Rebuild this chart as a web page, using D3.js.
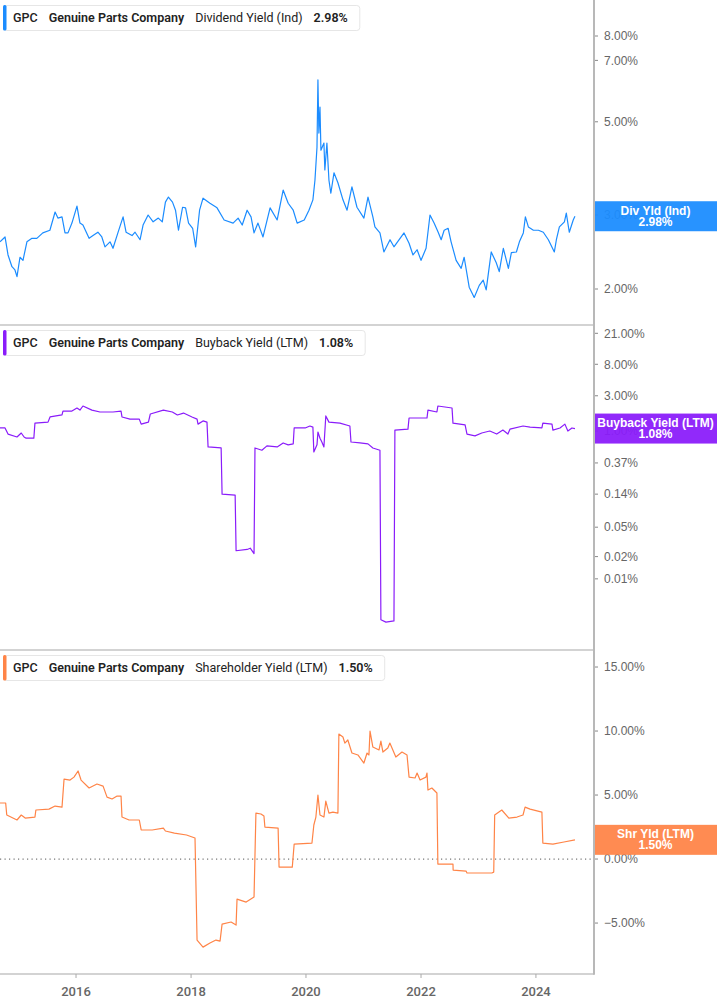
<!DOCTYPE html>
<html>
<head>
<meta charset="utf-8">
<script src="https://cdn.jsdelivr.net/npm/d3@7"></script>
<style>
  html, body { margin: 0; padding: 0; background: #fff; }
  svg { display: block; }
</style>
</head>
<body>
<svg id="chart" width="717" height="1005"></svg>
<script>
// ---------- DATA ----------
const xTickYears = [2016, 2018, 2020, 2022, 2024];

const divTicks = [8, 7, 5, 3, 2];
const bbTicks = [21, 8, 3, 1, 0.37, 0.14, 0.05, 0.02, 0.01];
const shrTicks = [15, 10, 5, 0, -5];

const divDates = ["2014-09-05","2014-10-07","2014-10-26","2014-11-20","2014-12-09","2014-12-22","2015-01-10","2015-01-29","2015-02-23","2015-03-27","2015-04-27","2015-06-04","2015-07-19","2015-08-21","2015-09-08","2015-10-04","2015-10-23","2015-11-11","2015-12-06","2016-01-07","2016-01-26","2016-02-14","2016-03-24","2016-04-18","2016-05-19","2016-06-13","2016-07-03","2016-08-04","2016-08-23","2016-09-23","2016-10-26","2016-11-14","2016-12-22","2017-01-10","2017-02-11","2017-03-02","2017-04-03","2017-05-05","2017-06-07","2017-07-02","2017-07-22","2017-08-10","2017-09-05","2017-09-24","2017-10-13","2017-11-08","2017-11-27","2017-12-16","2018-01-11","2018-01-30","2018-02-24","2018-03-18","2018-05-01","2018-06-15","2018-07-30","2018-09-25","2018-10-27","2018-11-22","2018-12-23","2019-01-17","2019-02-05","2019-03-02","2019-04-03","2019-05-18","2019-07-02","2019-08-09","2019-09-10","2019-10-12","2019-11-06","2019-12-21","2020-01-20","2020-02-14","2020-02-27","2020-03-11","2020-03-17","2020-03-23","2020-03-30","2020-04-05","2020-04-24","2020-04-30","2020-05-13","2020-05-26","2020-06-07","2020-06-27","2020-07-22","2020-08-23","2020-09-18","2020-10-19","2020-11-20","2021-01-03","2021-01-29","2021-03-01","2021-03-14","2021-04-15","2021-05-10","2021-06-18","2021-07-13","2021-09-15","2021-10-17","2021-11-11","2021-12-07","2022-01-01","2022-02-02","2022-02-27","2022-03-25","2022-04-20","2022-05-09","2022-05-28","2022-06-22","2022-07-11","2022-08-12","2022-09-13","2022-10-02","2022-11-03","2022-12-05","2023-01-06","2023-01-31","2023-02-19","2023-03-23","2023-04-24","2023-05-13","2023-06-08","2023-07-10","2023-07-29","2023-08-30","2023-09-18","2023-10-13","2023-10-26","2023-11-14","2023-12-16","2024-01-17","2024-02-17","2024-03-20","2024-04-27","2024-05-10","2024-05-29","2024-06-30","2024-07-12","2024-07-31","2024-08-25","2024-09-05"];
const divValues = [2.59,2.66,2.41,2.26,2.22,2.14,2.38,2.34,2.59,2.64,2.64,2.72,2.76,3.05,2.95,2.97,2.72,2.72,2.87,3.15,2.87,2.84,2.64,2.68,2.73,2.66,2.52,2.59,2.50,2.72,2.97,2.73,2.68,2.73,2.62,2.84,3.00,2.89,2.95,2.89,3.22,3.31,3.22,3.08,2.76,3.13,3.12,2.87,2.79,2.52,3.08,3.29,3.20,3.12,2.92,2.87,2.95,2.84,3.08,2.97,2.72,2.87,2.66,3.12,2.92,3.44,3.20,3.08,2.87,2.92,3.08,3.26,3.63,4.35,6.29,4.70,5.42,4.28,4.45,3.84,4.45,3.63,3.38,3.78,3.58,3.26,3.08,3.50,3.13,2.95,3.31,2.97,2.81,2.72,2.45,2.62,2.52,2.72,2.57,2.41,2.48,2.34,2.50,3.00,2.87,2.73,2.62,2.76,2.79,2.59,2.34,2.24,2.38,2.02,1.91,2.04,2.10,1.99,2.45,2.31,2.20,2.50,2.24,2.44,2.45,2.59,2.72,2.97,2.81,2.76,2.76,2.73,2.62,2.45,2.62,2.81,2.89,3.03,2.73,2.92,2.98];

const bbDates = ["2014-09-05","2014-10-07","2014-10-26","2014-12-22","2015-01-18","2015-02-05","2015-02-18","2015-04-08","2015-04-15","2015-07-07","2015-07-20","2015-10-04","2015-10-10","2015-12-06","2016-01-07","2016-01-26","2016-02-14","2016-04-11","2016-06-01","2016-08-23","2016-10-13","2016-10-19","2016-12-09","2017-02-06","2017-02-18","2017-04-05","2017-04-17","2017-07-09","2017-09-04","2017-10-06","2017-11-14","2018-01-07","2018-02-08","2018-02-14","2018-03-18","2018-04-12","2018-04-19","2018-07-11","2018-07-17","2018-10-08","2018-10-14","2018-12-23","2019-01-12","2019-02-05","2019-02-11","2019-03-27","2019-04-28","2019-07-02","2019-08-09","2019-09-10","2019-10-12","2019-10-18","2019-12-27","2020-01-26","2020-02-14","2020-02-20","2020-03-11","2020-03-17","2020-03-30","2020-04-11","2020-04-24","2020-05-06","2020-05-26","2020-08-04","2020-10-06","2020-10-13","2020-12-09","2021-01-29","2021-03-01","2021-04-15","2021-04-21","2021-05-23","2021-07-13","2021-07-19","2021-10-10","2021-10-17","2021-12-13","2022-02-08","2022-02-14","2022-04-12","2022-04-18","2022-07-17","2022-07-23","2022-10-08","2022-10-20","2022-12-10","2023-01-22","2023-03-14","2023-04-27","2023-06-05","2023-07-07","2023-07-20","2023-10-11","2023-11-25","2024-02-08","2024-02-14","2024-04-12","2024-04-18","2024-06-02","2024-07-03","2024-07-22","2024-08-17","2024-09-05"];
const bbValues = [1.10,1.10,0.91,0.83,0.94,0.83,0.80,0.80,1.28,1.32,1.55,1.65,1.86,1.86,2.05,1.92,2.18,1.92,1.81,1.81,1.86,1.55,1.45,1.45,1.24,1.32,1.70,1.92,1.81,1.65,1.75,1.55,1.45,1.24,1.37,1.32,0.61,0.59,0.14,0.136,0.024,0.025,0.026,0.022,0.59,0.55,0.63,0.61,0.69,0.65,0.67,1.10,1.10,1.17,1.13,0.52,0.65,0.97,0.80,0.71,0.61,1.60,1.32,1.28,1.17,0.71,0.69,0.67,0.59,0.55,0.0028,0.0026,0.0027,1.03,1.06,1.50,1.50,1.50,1.92,1.81,2.18,2.05,1.28,1.21,0.91,0.86,0.94,1.00,0.91,1.03,0.91,1.06,1.17,1.13,1.10,1.28,1.24,1.03,1.10,1.24,1.00,1.10,1.08];

const shrDates = ["2014-09-05","2014-10-11","2014-10-18","2014-12-22","2015-01-18","2015-02-12","2015-04-15","2015-04-21","2015-07-13","2015-08-21","2015-10-04","2015-10-17","2015-11-24","2015-12-19","2016-01-14","2016-02-02","2016-03-24","2016-05-13","2016-06-21","2016-07-16","2016-08-17","2016-09-18","2016-10-13","2016-10-19","2016-12-03","2017-02-06","2017-02-18","2017-04-29","2017-07-09","2017-07-22","2017-09-17","2017-12-03","2018-01-26","2018-02-08","2018-03-18","2018-05-01","2018-06-08","2018-07-04","2018-07-17","2018-09-12","2018-10-14","2018-10-20","2018-12-17","2019-02-05","2019-02-17","2019-03-21","2019-04-09","2019-04-15","2019-07-08","2019-07-14","2019-10-06","2019-10-18","2020-02-08","2020-02-20","2020-03-04","2020-03-17","2020-03-30","2020-04-24","2020-05-06","2020-05-26","2020-06-20","2020-07-22","2020-07-28","2020-08-23","2020-09-04","2020-09-23","2020-10-19","2020-11-26","2021-01-03","2021-01-23","2021-02-04","2021-02-11","2021-03-01","2021-04-09","2021-04-21","2021-05-04","2021-06-04","2021-06-17","2021-07-25","2021-09-02","2021-10-04","2021-10-17","2021-11-24","2021-12-07","2021-12-26","2022-02-01","2022-02-08","2022-02-14","2022-03-11","2022-04-12","2022-04-18","2022-07-23","2022-07-24","2022-10-14","2022-10-20","2023-03-27","2023-04-08","2023-04-14","2023-05-29","2023-07-13","2023-09-03","2023-10-11","2023-10-24","2023-11-25","2024-02-08","2024-02-14","2024-04-18","2024-06-27","2024-09-05"];
const shrValues = [4.38,4.38,3.44,3.05,3.44,3.20,3.28,3.83,3.90,4.14,4.06,6.25,6.17,6.40,6.88,6.17,5.55,5.86,5.70,4.84,4.69,4.92,4.92,3.28,3.05,3.05,2.27,2.27,2.42,2.19,2.03,1.88,1.64,-6.33,-6.88,-6.56,-6.33,-6.41,-5.08,-4.92,-5.16,-3.13,-3.36,-2.97,3.59,3.52,3.36,2.50,2.42,-0.63,-0.63,1.17,1.25,2.66,3.28,5.00,3.44,3.28,4.53,3.59,3.67,3.59,9.77,9.53,9.06,9.30,8.28,8.13,7.50,8.28,8.13,10.00,8.75,8.52,9.22,8.36,8.67,9.06,7.97,8.36,8.13,6.40,6.33,6.72,6.17,6.40,6.72,5.39,5.55,5.16,-0.39,-0.39,-0.86,-0.94,-1.09,-1.09,-1.02,3.44,3.83,3.20,3.28,3.44,4.06,3.90,3.67,1.25,1.17,1.33,1.50];

// ---------- LAYOUT ----------
const svg = d3.select("#chart");
const plotRight = 594;
const panels = [
  { top: 0, bottom: 325, color: "#1b8cff", ticker: "GPC", name: "Genuine Parts Company", metric: "Dividend Yield (Ind)", last: "2.98%", badge: ["Div Yld (Ind)", "2.98%"],
    dates: divDates, values: divValues, ticks: divTicks, type: "log", domain: [9.745, 1.642] },
  { top: 325, bottom: 650, color: "#8a1cfa", ticker: "GPC", name: "Genuine Parts Company", metric: "Buyback Yield (LTM)", last: "1.08%", badge: ["Buyback Yield (LTM)", "1.08%"],
    dates: bbDates, values: bbValues, ticks: bbTicks, type: "log", domain: [27.2, 0.00109] },
  { top: 650, bottom: 974, color: "#ff8447", ticker: "GPC", name: "Genuine Parts Company", metric: "Shareholder Yield (LTM)", last: "1.50%", badge: ["Shr Yld (LTM)", "1.50%"],
    dates: shrDates, values: shrValues, ticks: shrTicks, type: "linear", domain: [16.33, -8.98] }
];

const parse = d3.timeParse("%Y-%m-%d");
const x = d3.scaleTime()
  .domain([parse("2014-09-05"), parse("2025-01-04")])
  .range([0, plotRight]);

const fmt = d3.format(".2f");
const tickFont = "'Liberation Sans', Arial, sans-serif";
const legendFont = "Roboto, 'Liberation Sans', sans-serif";

panels.forEach((p, i) => {
  const y = (p.type === "log" ? d3.scaleLog() : d3.scaleLinear())
    .domain(p.domain).range([p.top, p.bottom]);
  const g = svg.append("g");

  const clipId = "clip" + i;
  svg.append("clipPath").attr("id", clipId)
    .append("rect").attr("x", 0).attr("y", p.top).attr("width", plotRight).attr("height", p.bottom - p.top);

  if (p.type === "linear") {
    g.append("line")
      .attr("x1", 0).attr("x2", plotRight)
      .attr("y1", y(0)).attr("y2", y(0))
      .attr("stroke", "#777").attr("stroke-width", 1.2)
      .attr("stroke-dasharray", "1.2,3.3");
  }

  const data = p.dates.map((d, k) => ({ date: parse(d), value: p.values[k] }));
  const line = d3.line().x(d => x(d.date)).y(d => y(d.value));
  g.append("path")
    .datum(data)
    .attr("clip-path", `url(#${clipId})`)
    .attr("d", line)
    .attr("fill", "none")
    .attr("stroke", p.color)
    .attr("stroke-width", 1.2)
    .attr("stroke-linejoin", "round");

  g.append("line")
    .attr("x1", 0).attr("x2", plotRight)
    .attr("y1", p.bottom).attr("y2", p.bottom)
    .attr("stroke", "#c4c4c4").attr("stroke-width", 1.5);

  p.ticks.forEach(t => {
    const ty = y(t);
    g.append("line")
      .attr("x1", plotRight + 1).attr("x2", plotRight + 4)
      .attr("y1", ty).attr("y2", ty)
      .attr("stroke", "#888").attr("stroke-width", 1);
    g.append("text")
      .attr("x", plotRight + 10).attr("y", ty + 4.3)
      .attr("font-family", tickFont).attr("font-size", 12)
      .attr("fill", "#666")
      .text(fmt(t) + "%");
  });

  const lastVal = p.values[p.values.length - 1];
  const by = y(lastVal);
  g.append("rect")
    .attr("x", plotRight).attr("y", by - 15)
    .attr("width", 717 - plotRight).attr("height", 30)
    .attr("fill", p.color).attr("fill-opacity", 0.94);
  const cx = plotRight + (717 - plotRight) / 2;
  g.append("text")
    .attr("x", cx).attr("y", by - 1.5)
    .attr("text-anchor", "middle")
    .attr("font-family", tickFont).attr("font-size", 12).attr("font-weight", 600)
    .attr("fill", "#fff").text(p.badge[0]);
  g.append("text")
    .attr("x", cx).attr("y", by + 9.5)
    .attr("text-anchor", "middle")
    .attr("font-family", tickFont).attr("font-size", 12).attr("font-weight", 600)
    .attr("fill", "#fff").text(p.badge[1]);

  const lg = svg.append("g").attr("transform", `translate(0, ${p.top})`);
  const box = lg.append("rect")
    .attr("x", 3.5).attr("y", 5.5).attr("height", 25)
    .attr("rx", 3).attr("fill", "#fff")
    .attr("stroke", "#e6e6e6").attr("stroke-width", 1);
  lg.append("rect")
    .attr("x", 3).attr("y", 5).attr("width", 3.5).attr("height", 25.5)
    .attr("rx", 1.5)
    .attr("fill", p.color);
  const parts = [
    { t: p.ticker, w: 500, c: "#222" },
    { t: p.name, w: 600, c: "#222" },
    { t: p.metric, w: 400, c: "#222" },
    { t: p.last, w: 600, c: "#222" }
  ];
  let cxp = 13;
  parts.forEach(pt => {
    const tx = lg.append("text")
      .attr("x", cxp).attr("y", 22)
      .attr("font-family", legendFont).attr("font-size", 12.5)
      .attr("font-weight", pt.w).attr("fill", pt.c)
      .text(pt.t);
    cxp += tx.node().getComputedTextLength() + 11;
  });
  box.attr("width", cxp - 11 + 12 - 3.5);
});

svg.append("line")
  .attr("x1", plotRight).attr("x2", plotRight)
  .attr("y1", 0).attr("y2", 974.75)
  .attr("stroke", "#b8b8b8").attr("stroke-width", 2);

xTickYears.forEach(yr => {
  const tx = x(new Date(yr, 0, 1));
  svg.append("line")
    .attr("x1", tx).attr("x2", tx).attr("y1", 974).attr("y2", 978)
    .attr("stroke", "#aaa").attr("stroke-width", 1);
  svg.append("text")
    .attr("x", tx).attr("y", 996)
    .attr("text-anchor", "middle")
    .attr("font-family", legendFont).attr("font-size", 13).attr("font-weight", 500)
    .attr("fill", "#666")
    .text(yr);
});
</script>
</body>
</html>
